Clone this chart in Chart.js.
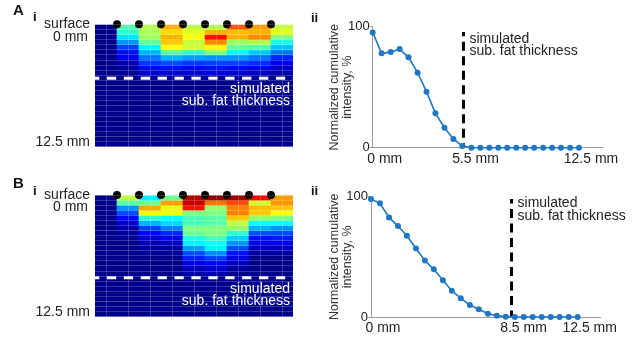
<!DOCTYPE html>
<html>
<head>
<meta charset="utf-8">
<script src="https://cdn.jsdelivr.net/npm/chart.js@4.4.1/dist/chart.umd.min.js"></script>
<style>
  html, body { margin: 0; padding: 0; background: #fff; }
  #fig { position: relative; width: 640px; height: 341px; overflow: hidden; }
  canvas { position: absolute; }
</style>
</head>
<body>
<div id="fig">
  <canvas id="heatA" width="320" height="170" style="left:0;top:0;width:320px;height:170px"></canvas>
  <canvas id="lineA" width="320" height="170" style="left:320px;top:0;width:320px;height:170px"></canvas>
  <canvas id="heatB" width="320" height="171" style="left:0;top:170px;width:320px;height:171px"></canvas>
  <canvas id="lineB" width="320" height="171" style="left:320px;top:170px;width:320px;height:171px"></canvas>
</div>
<script>
const FONT = '"Liberation Sans", Arial, sans-serif';

// lateral column centres of the heatmaps, and the electrode positions between them
const columnCenters = [0.5, 1.5, 2.5, 3.5, 4.5, 5.5, 6.5, 7.5, 8.5];
const electrodes = [1, 2, 3, 4, 5, 6, 7, 8];

// depth samples of the cumulative intensity curves, mm
const depthMm = [0, 0.54, 1.09, 1.63, 2.17, 2.72, 3.26, 3.80, 4.35, 4.89, 5.43, 5.98,
                 6.52, 7.07, 7.61, 8.15, 8.70, 9.24, 9.78, 10.33, 10.87, 11.41, 11.96, 12.50];

// normalized cumulative intensity, %
const curveA = [95.3, 78, 79, 81.5, 74.7, 62, 46.3, 28.4, 16.5, 7.2, 1.4, 0,
                0, 0, 0, 0, 0, 0, 0, 0, 0, 0, 0, 0];
const curveB = [98, 94.5, 82.8, 75.6, 67.6, 57, 47, 39.6, 30.5, 21.9, 15.5, 10,
                6.4, 2.8, 1.1, 0.3, 0, 0, 0, 0, 0, 0, 0, 0];

// simulated subcutaneous fat thickness, mm
const fatA = 5.5;
const fatB = 8.5;

const xTicksA = [0, 5.5, 12.5];
const xTicksB = [0, 8.5, 12.5];
const yTicks = [0, 100];

// heatmap intensities (0..1), one array per column, 24 depth rows each
const heatA = [
  [.01,.01,.01,.01,.01,.01, .01,.01,.01,.01,.01,.01, .01,.01,.01,.01,.01,.01, .01,.01,.01,.01,.01,.01],
  [.45,.42,.35,.27,.19,.14, .10,.05,.03,.02,.01,.01, .01,.01,.01,.01,.01,.01, .01,.01,.01,.01,.01,.01],
  [.55,.54,.53,.47,.37,.30, .24,.18,.13,.08,.03,.01, .01,.01,.01,.01,.01,.01, .01,.01,.01,.01,.01,.01],
  [.70,.66,.70,.68,.62,.46, .30,.20,.14,.08,.03,.01, .01,.01,.01,.01,.01,.01, .01,.01,.01,.01,.01,.01],
  [.56,.60,.62,.57,.58,.42, .28,.18,.13,.08,.03,.01, .01,.01,.01,.01,.01,.01, .01,.01,.01,.01,.01,.01],
  [.55,.70,.86,.74,.63,.50, .27,.19,.14,.09,.03,.01, .01,.01,.01,.01,.01,.01, .01,.01,.01,.01,.01,.01],
  [.79,.69,.70,.53,.47,.37, .27,.19,.13,.08,.03,.01, .01,.01,.01,.01,.01,.01, .01,.01,.01,.01,.01,.01],
  [.72,.70,.74,.55,.45,.32, .24,.17,.12,.07,.03,.01, .01,.01,.01,.01,.01,.01, .01,.01,.01,.01,.01,.01],
  [.57,.60,.50,.40,.32,.24, .16,.11,.07,.04,.02,.01, .01,.01,.01,.01,.01,.01, .01,.01,.01,.01,.01,.01]
];
const heatB = [
  [.01,.01,.01,.01,.01,.01, .01,.01,.01,.01,.01,.01, .01,.01,.01,.01,.01,.01, .01,.01,.01,.01,.01,.01],
  [.56,.46,.27,.20,.13,.08, .04,.03,.02,.01,.01,.01, .01,.01,.01,.01,.01,.01, .01,.01,.01,.01,.01,.01],
  [.36,.48,.71,.63,.42,.30, .19,.13,.08,.05,.03,.02, .01,.01,.01,.01,.01,.01, .01,.01,.01,.01,.01,.01],
  [.48,.72,.63,.62,.38,.34, .25,.16,.11,.06,.03,.02, .01,.01,.01,.01,.01,.01, .01,.01,.01,.01,.01,.01],
  [.95,.93,.86,.50,.45,.44, .50,.48,.40,.36,.28,.20, .15,.10,.06,.04,.02,.01, .01,.01,.01,.01,.01,.01],
  [.98,.76,.52,.50,.46,.46, .50,.50,.44,.38,.36,.26, .18,.13,.08,.05,.02,.01, .01,.01,.01,.01,.01,.01],
  [.97,.80,.75,.75,.68,.56, .52,.42,.33,.27,.20,.14, .09,.06,.03,.01,.01,.01, .01,.01,.01,.01,.01,.01],
  [.87,.58,.69,.68,.52,.38, .30,.20,.14,.10,.06,.03, .01,.01,.01,.01,.01,.01, .01,.01,.01,.01,.01,.01],
  [.72,.73,.68,.62,.50,.38, .27,.20,.15,.10,.06,.03, .01,.01,.01,.01,.01,.01, .01,.01,.01,.01,.01,.01]
];

const totalDepth = 12.5;

// matlab-style jet colormap
function jet(v) {
  const c = t => Math.round(255 * Math.min(1, Math.max(0, t)));
  return `rgb(${c(1.5 - Math.abs(4 * v - 3))},${c(1.5 - Math.abs(4 * v - 2))},${c(1.5 - Math.abs(4 * v - 1))})`;
}

function heatmap(id, grid, fat, pad, letter) {
  const nRows = grid[0].length;
  const rowMm = totalDepth / nRows;
  const edges = [];
  for (let r = 0; r <= nRows; r++) edges.push(r * rowMm);

  const datasets = grid[0].map((_, r) => ({
    type: 'bar',
    data: columnCenters.map(c => ({ x: c, y: rowMm })),
    backgroundColor: grid.map(col => jet(col[r])),
    borderWidth: 0,
    barPercentage: 1,
    categoryPercentage: 1,
    stack: 'depth'
  }));
  // electrodes on the surface, drawn over the cells
  datasets.push({
    type: 'scatter',
    data: electrodes.map(x => ({ x: x, y: 0 })),
    stack: 'dots',
    order: -1,
    backgroundColor: '#000',
    pointRadius: 4,
    pointBorderWidth: 0,
    clip: false
  });

  const deco = {
    id: 'heatDeco',
    afterDraw(chart) {
      const { ctx, chartArea: a, scales: { y } } = chart;
      const yf = y.getPixelForValue(fat);
      ctx.save();
      ctx.strokeStyle = '#fff';
      ctx.lineWidth = 3;
      ctx.setLineDash([9.3, 7.6]);
      ctx.lineDashOffset = 5;
      ctx.beginPath();
      ctx.moveTo(a.left, yf);
      ctx.lineTo(a.right, yf);
      ctx.stroke();
      ctx.setLineDash([]);

      ctx.font = '14px ' + FONT;
      ctx.textAlign = 'right';
      ctx.textBaseline = 'middle';
      ctx.fillStyle = '#fff';
      ctx.fillText('simulated', a.right - 3, yf + 11);
      ctx.fillText('sub. fat thickness', a.right - 3, yf + 23.4);

      ctx.fillStyle = '#222';
      ctx.fillText('surface', a.left - 5, a.top);
      ctx.fillText('0 mm', a.left - 7, a.top + 12.4);
      ctx.fillText('12.5 mm', a.left - 5, a.bottom - 5);

      ctx.textAlign = 'left';
      ctx.textBaseline = 'alphabetic';
      ctx.fillStyle = '#111';
      ctx.font = 'bold 15px ' + FONT;
      ctx.fillText(letter.text, 13, letter.base);
      ctx.font = 'bold 13px ' + FONT;
      ctx.fillText('i', 33, letter.iBase);
      ctx.fillText('ii', 311, letter.iiBase);
      ctx.restore();
    }
  };

  const gridColor = 'rgba(255,255,255,0.2)';
  return new Chart(document.getElementById(id), {
    type: 'bar',
    data: { datasets: datasets },
    options: {
      animation: false,
      responsive: false,
      layout: { padding: pad },
      plugins: { legend: { display: false }, tooltip: { enabled: false } },
      scales: {
        x: {
          type: 'linear',
          stacked: true,
          offset: false,
          min: 0,
          max: columnCenters.length,
          grid: { color: gridColor, z: 1, drawTicks: false },
          ticks: { display: false, stepSize: 1 },
          border: { display: false },
          afterBuildTicks: s => { s.ticks = [0].concat(electrodes, [columnCenters.length]).map(v => ({ value: v })); },
          afterFit: s => { s.height = 0; }
        },
        y: {
          stacked: true,
          reverse: true,
          min: 0,
          max: totalDepth,
          grid: { color: gridColor, z: 1, drawTicks: false },
          ticks: { display: false },
          border: { display: false },
          afterBuildTicks: s => { s.ticks = edges.map(v => ({ value: v })); },
          afterFit: s => { s.width = 0; }
        }
      }
    },
    plugins: [deco]
  });
}

function profile(id, values, fat, xTicks, pad, note) {
  const blue = '#1f77c4';
  const axisGrey = '#9a9a9a';

  const deco = {
    id: 'fatLine',
    beforeDatasetsDraw(chart) {
      const { ctx, scales: { x, y } } = chart;
      const xf = x.getPixelForValue(fat);
      ctx.save();
      ctx.strokeStyle = '#000';
      ctx.lineWidth = 3;
      ctx.setLineDash([9, 5.5]);
      ctx.lineDashOffset = 4.7;
      ctx.beginPath();
      ctx.moveTo(xf, y.getPixelForValue(note.top));
      ctx.lineTo(xf, y.getPixelForValue(0));
      ctx.stroke();
      ctx.setLineDash([]);
      ctx.font = '14px ' + FONT;
      ctx.fillStyle = '#222';
      ctx.textAlign = 'left';
      ctx.textBaseline = 'middle';
      ctx.fillText('simulated', xf + 6, y.getPixelForValue(note.y[0]));
      ctx.fillText('sub. fat thickness', xf + 6, y.getPixelForValue(note.y[1]));
      ctx.restore();
    }
  };

  return new Chart(document.getElementById(id), {
    type: 'line',
    data: {
      datasets: [{
        data: depthMm.map((d, i) => ({ x: d, y: values[i] })),
        borderColor: blue,
        backgroundColor: blue,
        borderWidth: 1.6,
        pointRadius: 3,
        pointBorderWidth: 0,
        pointBackgroundColor: blue,
        tension: 0,
        clip: false
      }]
    },
    options: {
      animation: false,
      responsive: false,
      layout: { padding: { left: 0, top: pad.top, right: pad.right, bottom: 0 } },
      plugins: { legend: { display: false }, tooltip: { enabled: false } },
      scales: {
        x: {
          type: 'linear',
          min: 0,
          max: 13.9,
          afterBuildTicks: s => { s.ticks = xTicks.map(v => ({ value: v })); },
          ticks: {
            callback: v => v + ' mm',
            font: { family: FONT, size: 14 },
            color: '#222',
            padding: 3,
            labelOffset: 12,
            maxRotation: 0,
            autoSkip: false
          },
          grid: { display: false, drawTicks: false },
          border: { color: axisGrey, width: 1 },
          afterFit: s => { s.height = pad.xh; }
        },
        y: {
          min: 0,
          max: 100,
          afterBuildTicks: s => { s.ticks = yTicks.map(v => ({ value: v })); },
          ticks: { font: { family: FONT, size: 13 }, color: '#222', padding: 0 },
          grid: { display: true, drawOnChartArea: false, drawTicks: true, tickLength: 3, color: axisGrey },
          border: { color: axisGrey, width: 1 },
          title: {
            display: true,
            text: ['Normalized cumulative', 'intensity, %'],
            font: { family: FONT, size: 12.5, lineHeight: 1.05 },
            color: '#333',
            padding: { top: 7.5, bottom: 0 }
          },
          afterFit: s => { s.width = pad.yw; }
        }
      }
    },
    plugins: [deco]
  });
}

heatmap('heatA', heatA, fatA, { left: 95, top: 24.3, right: 27, bottom: 23.3 },
        { text: 'A', base: 15, iBase: 20.7, iiBase: 21.7 });
heatmap('heatB', heatB, fatB, { left: 95, top: 25, right: 27, bottom: 24.3 },
        { text: 'B', base: 18.3, iBase: 25, iiBase: 25 });

profile('lineA', curveA, fatA, xTicksA, { top: 26.7, right: 37.9, yw: 52.7, xh: 22.3 },
        { top: 95.6, y: [90, 80] });
profile('lineB', curveB, fatB, xTicksB, { top: 26.7, right: 39.2, yw: 51, xh: 24 },
        { top: 98, y: [94.5, 83.5] });
</script>
</body>
</html>
